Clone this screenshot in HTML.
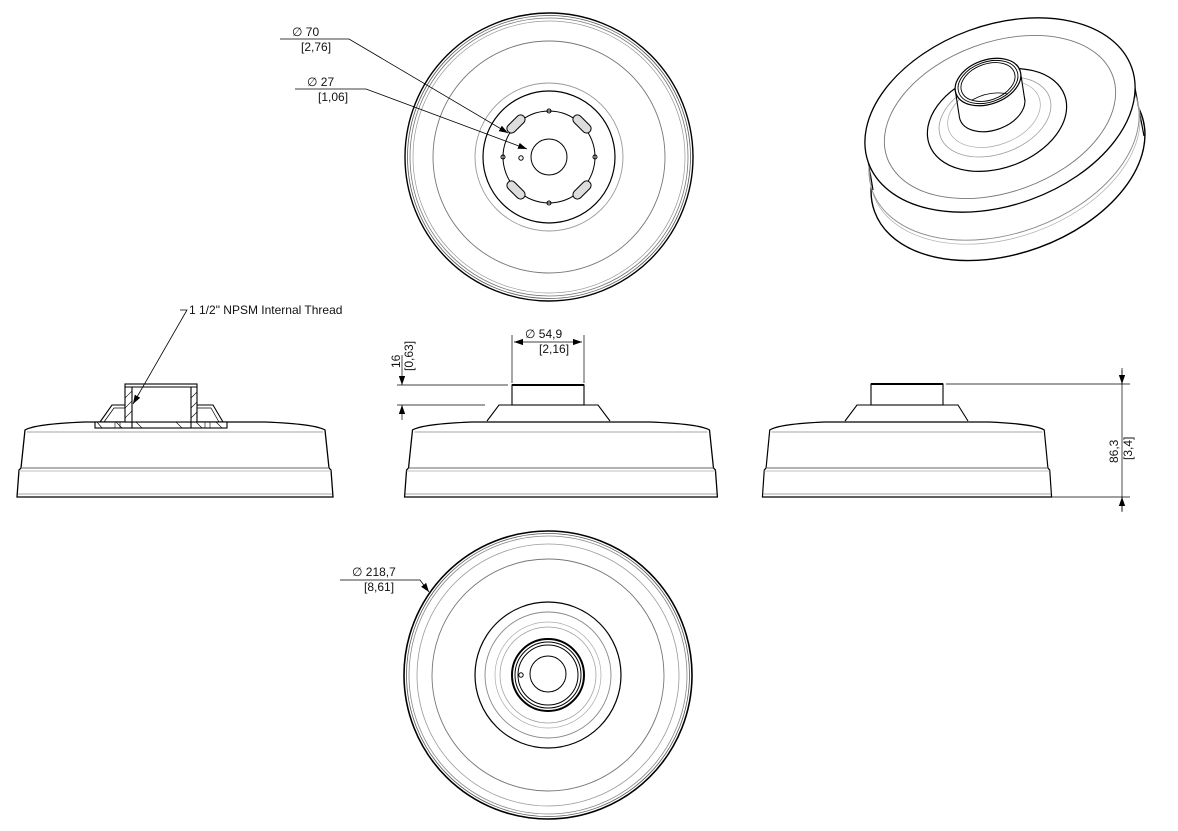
<!DOCTYPE html>
<html><head><meta charset="utf-8"><style>
html,body{margin:0;padding:0;background:#fff}
svg{display:block}
text{font-family:"Liberation Sans",sans-serif;font-size:12px;fill:#111}
</style></head><body>
<svg width="1178" height="831" viewBox="0 0 1178 831" xmlns="http://www.w3.org/2000/svg">
<defs>
<marker id="ar" viewBox="0 0 10 10" refX="10" refY="5" markerWidth="9" markerHeight="9" orient="auto-start-reverse" markerUnits="userSpaceOnUse"><path d="M0,1.5 L10,5 L0,8.5 Z" fill="#000"/></marker>
<g id="body">
<path d="M-150,430 Q-140,424 -90,422 L90,422 Q140,424 150,430 L154,468 L156,470 L158,497 L-158,497 L-156,470 L-154,468 Z" fill="none" stroke="#000" stroke-width="1.3"/>
<line x1="-148" y1="432" x2="148" y2="432" stroke="#888" stroke-width="0.8"/>
<line x1="-154" y1="468" x2="154" y2="468" stroke="#666" stroke-width="1"/>
<line x1="-156" y1="471" x2="156" y2="471" stroke="#aaa" stroke-width="0.7"/>
<line x1="-157" y1="494" x2="157" y2="494" stroke="#888" stroke-width="0.7"/>
</g>
<ellipse id="sw" cx="0" cy="0" rx="140" ry="90" transform="rotate(-20)" fill="#fff" stroke="none"/>
</defs>

<!-- TOP VIEW -->
<g fill="none" stroke="#000">
<circle cx="549" cy="157" r="144" stroke-width="1.4"/>
<circle cx="549" cy="157" r="141.5" stroke="#555" stroke-width="0.8"/>
<circle cx="549" cy="157" r="139" stroke="#777" stroke-width="0.8"/>
<circle cx="549" cy="157" r="136" stroke="#999" stroke-width="0.7"/>
<circle cx="549" cy="157" r="116" stroke="#777" stroke-width="0.9"/>
<circle cx="549" cy="157" r="74" stroke="#999" stroke-width="0.9"/>
<circle cx="549" cy="157" r="66" stroke-width="1.2"/>
<circle cx="549" cy="157" r="46" stroke-width="1"/>
<circle cx="549" cy="157" r="18" stroke-width="1"/>
<circle cx="549" cy="111" r="2" /><circle cx="549" cy="203" r="2"/><circle cx="503" cy="157" r="2"/><circle cx="595" cy="157" r="2"/>
<circle cx="521" cy="158" r="2.2"/>
<g stroke-width="1">
<rect x="-11" y="-4.5" width="22" height="9" rx="4.5" transform="translate(516,124) rotate(-45)" fill="#ddd"/>
<rect x="-11" y="-4.5" width="22" height="9" rx="4.5" transform="translate(582,124) rotate(45)" fill="#ddd"/>
<rect x="-11" y="-4.5" width="22" height="9" rx="4.5" transform="translate(516,190) rotate(45)" fill="#ddd"/>
<rect x="-11" y="-4.5" width="22" height="9" rx="4.5" transform="translate(582,190) rotate(-45)" fill="#ddd"/>
</g>
<polyline points="280,39 349,39 508,133" stroke-width="0.8" marker-end="url(#ar)"/>
<polyline points="295,89 366,89 527,149" stroke-width="0.8" marker-end="url(#ar)"/>
</g>
<text x="292" y="36">∅ 70</text><text x="301" y="51">[2,76]</text>
<text x="307" y="86">∅ 27</text><text x="318" y="101">[1,06]</text>

<!-- ISOMETRIC -->
<g stroke="#000">
<ellipse cx="1008" cy="163" rx="142" ry="90" transform="rotate(-20 1008 163)" fill="#fff" stroke-width="1.4"/>
<use href="#sw" transform="translate(1001,120)"/>
<use href="#sw" transform="translate(1002,126)"/>
<use href="#sw" transform="translate(1003,132)"/>
<use href="#sw" transform="translate(1004,138)"/>
<use href="#sw" transform="translate(1005,144)"/>
<use href="#sw" transform="translate(1006,150)"/>
<use href="#sw" transform="translate(1007,156)"/>
<use href="#sw" transform="translate(1007.5,160)"/>
<line x1="865" y1="142" x2="873" y2="190" stroke-width="1.2"/>
<line x1="1135" y1="88" x2="1144" y2="136" stroke-width="1.2"/>
<ellipse cx="1004" cy="143" rx="140" ry="90" transform="rotate(-20 1004 143)" fill="none" stroke="#888" stroke-width="0.9"/>
<ellipse cx="1005" cy="147" rx="140" ry="90" transform="rotate(-20 1005 147)" fill="none" stroke="#aaa" stroke-width="0.7"/>
<ellipse cx="1000" cy="115" rx="140" ry="90" transform="rotate(-20 1000 115)" fill="#fff" stroke-width="1.3"/>
<ellipse cx="1000" cy="117" rx="120" ry="75" transform="rotate(-20 1000 117)" fill="none" stroke="#777" stroke-width="0.9"/>
<ellipse cx="997" cy="120" rx="72" ry="48" transform="rotate(-20 997 120)" fill="none" stroke-width="1.2"/>
<ellipse cx="995" cy="117" rx="58" ry="37" transform="rotate(-20 995 117)" fill="none" stroke="#999" stroke-width="0.8"/>
<ellipse cx="994" cy="114" rx="48" ry="31" transform="rotate(-20 994 114)" fill="none" stroke="#aaa" stroke-width="0.7"/>
<ellipse cx="992" cy="108" rx="34" ry="22" transform="rotate(-20 992 108)" fill="#fff" stroke-width="1.1"/>
<polygon points="959,88.6 1021,75.4 1025,101.4 959,114.6" fill="#fff" stroke="none"/>
<line x1="955" y1="88.6" x2="959" y2="114.6" stroke-width="1.1"/>
<line x1="1021" y1="75.4" x2="1025" y2="101.4" stroke-width="1.1"/>
<ellipse cx="988" cy="82" rx="34" ry="22" transform="rotate(-20 988 82)" fill="#fff" stroke-width="1.2"/>
<ellipse cx="988" cy="82" rx="31" ry="20" transform="rotate(-20 988 82)" fill="none" stroke-width="0.9"/>
<ellipse cx="988" cy="82" rx="28" ry="18" transform="rotate(-20 988 82)" fill="none" stroke-width="0.9"/>
<path d="M972,100 Q990,90 1008,94" fill="none" stroke-width="0.8"/>
</g>

<!-- LEFT SECTION VIEW -->
<use href="#body" transform="translate(175,0)"/>
<g fill="none" stroke="#000" stroke-width="1.1">
<rect x="95" y="422" width="132" height="6" fill="#fff"/>
<path d="M100,422 L112,405 L125,405 M223,422 L213,405 L197,405"/>
<path d="M104,422 L114,408 L125,408 M219,422 L211,408 L197,408" stroke-width="0.7"/>
<rect x="125" y="384" width="72" height="38" fill="#fff"/>
<line x1="132" y1="387" x2="132" y2="428"/><line x1="191" y1="387" x2="191" y2="428"/>
<line x1="125" y1="387" x2="197" y2="387"/>
<g stroke-width="0.6">
<path d="M125,398 L132,391 M125,408 L132,401 M125,418 L132,411 M191,398 L197,392 M191,408 L197,402 M191,418 L197,412"/>
<path d="M102,428 L97,422 M122,428 L116,422 M142,428 L136,422 M182,428 L176,422 M202,428 L196,422 M222,428 L216,422"/>
<line x1="115" y1="422" x2="115" y2="428"/><line x1="120" y1="422" x2="120" y2="428"/><line x1="205" y1="422" x2="205" y2="428"/><line x1="210" y1="422" x2="210" y2="428"/>
</g>
<polyline points="180,310 187,310 133,404" stroke-width="0.8" marker-end="url(#ar)"/>
</g>
<text x="189" y="314">1 1/2" NPSM Internal Thread</text>

<!-- MIDDLE SIDE VIEW -->
<use href="#body" transform="translate(561,0) scale(0.99,1)"/>
<g fill="none" stroke="#000" stroke-width="1.1">
<path d="M487,421 L499,405 L598,405 L610,421"/>
<rect x="512" y="385" width="72" height="20" fill="#fff"/>
<line x1="512" y1="385" x2="584" y2="385" stroke-width="2"/>
<g stroke-width="0.7">
<line x1="512" y1="383" x2="512" y2="335"/><line x1="584" y1="383" x2="584" y2="335"/>
<line x1="514" y1="342" x2="582" y2="342" marker-start="url(#ar)" marker-end="url(#ar)"/>
<line x1="397" y1="385" x2="508" y2="385"/><line x1="397" y1="405" x2="485" y2="405"/>
<line x1="402" y1="355" x2="402" y2="385" marker-end="url(#ar)"/>
<line x1="402" y1="420" x2="402" y2="405" marker-end="url(#ar)"/>
</g>
</g>
<text x="525" y="338">∅ 54,9</text><text x="539" y="353">[2,16]</text>
<text transform="translate(400,368) rotate(-90)">16</text>
<text transform="translate(413,371) rotate(-90)">[0,63]</text>

<!-- RIGHT SIDE VIEW -->
<use href="#body" transform="translate(907,0) scale(0.915,1)"/>
<g fill="none" stroke="#000" stroke-width="1.1">
<path d="M845,421 L857,405 L958,405 L968,421"/>
<rect x="871" y="384" width="72" height="21" fill="#fff"/>
<line x1="871" y1="384" x2="943" y2="384" stroke-width="2"/>
<g stroke-width="0.7">
<line x1="946" y1="384" x2="1130" y2="384"/><line x1="1052" y1="497" x2="1130" y2="497"/>
<line x1="1122" y1="368" x2="1122" y2="512"/>
<line x1="1122" y1="370" x2="1122" y2="384" marker-end="url(#ar)"/>
<line x1="1122" y1="511" x2="1122" y2="497" marker-end="url(#ar)"/>
</g>
</g>
<text transform="translate(1118,463) rotate(-90)">86,3</text>
<text transform="translate(1132,460) rotate(-90)">[3,4]</text>

<!-- BOTTOM VIEW -->
<g fill="none" stroke="#000">
<circle cx="548" cy="675" r="144" stroke-width="1.6"/>
<circle cx="548" cy="675" r="141.5" stroke="#555" stroke-width="0.8"/>
<circle cx="548" cy="675" r="139" stroke="#888" stroke-width="0.8"/>
<circle cx="548" cy="675" r="131" stroke="#999" stroke-width="0.8"/>
<circle cx="548" cy="675" r="116" stroke="#777" stroke-width="0.9"/>
<circle cx="548" cy="675" r="73" stroke-width="1.2"/>
<circle cx="548" cy="675" r="63" stroke="#888" stroke-width="0.9"/>
<circle cx="548" cy="675" r="53" stroke="#aaa" stroke-width="0.7"/>
<circle cx="548" cy="675" r="48" stroke="#999" stroke-width="0.7"/>
<circle cx="548" cy="675" r="36" stroke-width="2"/>
<circle cx="548" cy="675" r="33" stroke-width="1"/>
<circle cx="548" cy="675" r="30" stroke-width="1"/>
<circle cx="548" cy="674" r="18" stroke-width="1"/>
<circle cx="521" cy="675" r="2.2" stroke-width="1"/>
<polyline points="340,580 420,580 429,592" stroke-width="0.8" marker-end="url(#ar)"/>
</g>
<text x="352" y="576">∅ 218,7</text><text x="364" y="591">[8,61]</text>
</svg>
</body></html>
